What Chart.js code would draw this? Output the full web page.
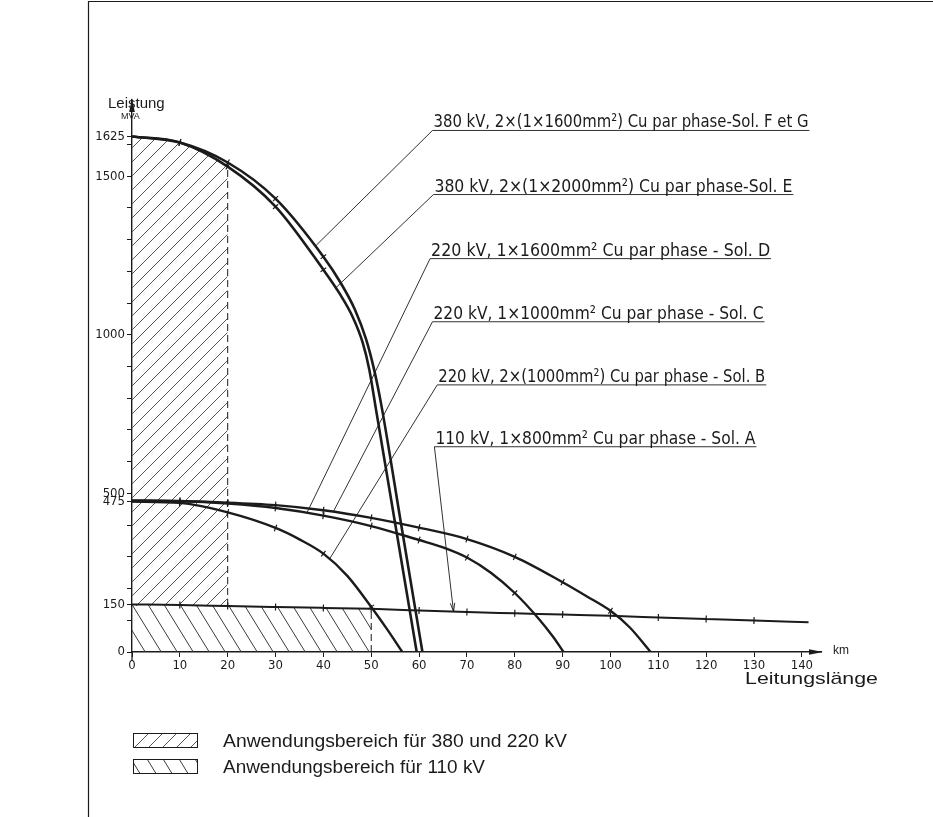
<!DOCTYPE html>
<html lang="de">
<head>
<meta charset="utf-8">
<title>Leistung / Leitungslänge</title>
<script src="https://cdn.jsdelivr.net/npm/chart.js@4.4.1/dist/chart.umd.min.js"></script>
<style>
  html, body { margin: 0; padding: 0; background: #fff; }
  #chart { display: block; }
</style>
</head>
<body>
<canvas id="chart" width="933" height="817"></canvas>
<script>
// Curves: line length (km) -> transmissible power (MVA)
const kmF = [0, 10, 20, 30, 40, 43.6, 46.6, 48.9, 50.6, 52.1, 56.3, 59.2, 60.7];
const mvaF = [1625, 1606, 1543, 1429, 1246, 1164, 1079, 987, 890, 779, 398, 136, 0];

const kmE = [0, 10, 20, 30, 40, 43.3, 46.1, 48.2, 49.6, 51.0, 55.4, 58.2, 59.5];
const mvaE = [1625, 1606, 1530, 1404, 1205, 1132, 1057, 976, 890, 764, 369, 117, 0];

const kmD = [0, 10, 20, 30, 40, 50, 60, 65, 70, 75, 80, 85, 88, 90.2];
const mvaD = [478, 476, 468, 454, 430, 397, 353, 330, 298, 250, 186, 105, 48, 0];

const kmC = [0, 10, 20, 30, 40, 50, 60, 70, 80, 90, 95, 100, 104, 108.4];
const mvaC = [476, 475, 471, 463, 447, 423, 392, 356, 300, 220, 176, 130, 78, 0];

const kmB = [0, 10, 20, 30, 35, 40, 45, 50, 53.3, 56.5];
const mvaB = [474, 470, 440, 391, 355, 310, 240, 142, 72, 0];

const kmA = [0, 10, 20, 30, 40, 50, 60, 70, 80, 90, 100, 110, 120, 130, 141.4];
const mvaA = [150, 148, 145, 142, 139, 136, 131, 126, 122, 118, 114, 109, 104, 99, 94];

// Application ranges (km)
const limit380 = 20;
const limit110 = 50;

// Axis ticks
const xTicks = [0, 10, 20, 30, 40, 50, 60, 70, 80, 90, 100, 110, 120, 130, 140];
const yTicks = [0, 100, 150, 200, 300, 400, 475, 500, 600, 700, 800, 900, 1000,
                1100, 1200, 1300, 1400, 1500, 1600, 1625];
const yLabels = [0, 150, 475, 500, 1000, 1500, 1625];

// Callouts: label, where the underline starts, where the leader touches the curve
const callouts = [
    { text: '380 kV, 2×(1×1600mm²) Cu par phase-Sol. F et G', at: [62.8, 1644], to: [38.5, 1282], width: 375 },
    { text: '380 kV, 2×(1×2000mm²) Cu par phase-Sol. E', at: [63.0, 1442], to: [42.6, 1148], width: 358 },
    { text: '220 kV, 1×1600mm² Cu par phase - Sol. D', at: [62.3, 1240], to: [36.6, 440], width: 339 },
    { text: '220 kV, 1×1000mm² Cu par phase - Sol. C', at: [62.8, 1041], to: [42.1, 443], width: 330 },
    { text: '220 kV, 2×(1000mm²) Cu par phase - Sol. B', at: [63.8, 842], to: [41.4, 296], width: 327 },
    { text: '110 kV, 1×800mm² Cu par phase - Sol. A', at: [63.2, 647], to: [67.2, 127], width: 320, arrow: true }
];

const legendItems = ['Anwendungsbereich für 380 und 220 kV', 'Anwendungsbereich für 110 kV'];

const ink = '#1b1b1b';
const numFont = "'Liberation Sans Narrow', 'DejaVu Sans Condensed', 'Liberation Sans', sans-serif";
const textFont = "'Liberation Sans', Arial, sans-serif";

function toPoints(km, mva) {
    return km.map((x, i) => ({ x: x, y: mva[i] }));
}

function hatch(dir, w, h, color) {
    const c = document.createElement('canvas');
    c.width = w;
    c.height = h;
    const g = c.getContext('2d');
    g.strokeStyle = color;
    g.lineWidth = 1;
    g.beginPath();
    for (let k = -1; k <= 1; k++) {
        const x0 = k * w;
        if (dir === '/') {
            g.moveTo(x0, h);
            g.lineTo(x0 + w, 0);
        } else {
            g.moveTo(x0, 0);
            g.lineTo(x0 + w, h);
        }
    }
    g.stroke();
    return g.createPattern(c, 'repeat');
}

// small cross marks on the curves every 10 km
function tickRadius(ctx) {
    const p = ctx.raw;
    return p && p.x > 0 && p.y > 0 && p.x % 10 === 0 ? 3.5 : 0;
}

function tickRotation(ctx) {
    const d = ctx.dataset.data;
    const i = ctx.dataIndex;
    const sx = ctx.chart.scales.x;
    const sy = ctx.chart.scales.y;
    if (!sx || !sy) return 90;
    const a = d[Math.max(i - 1, 0)];
    const b = d[Math.min(i + 1, d.length - 1)];
    const dx = sx.getPixelForValue(b.x) - sx.getPixelForValue(a.x);
    const dy = sy.getPixelForValue(b.y) - sy.getPixelForValue(a.y);
    return Math.atan2(dy, dx) * 180 / Math.PI + 90;
}

function curve(label, km, mva, width) {
    return {
        label: label,
        data: toPoints(km, mva),
        borderColor: ink,
        borderWidth: width,
        pointStyle: 'line',
        pointRadius: tickRadius,
        pointRotation: tickRotation,
        pointBorderColor: ink,
        pointBorderWidth: 1.2,
        cubicInterpolationMode: 'monotone',
        fill: false,
        order: 1
    };
}

function fitText(ctx, text, x, y, width) {
    const w = ctx.measureText(text).width;
    ctx.save();
    ctx.translate(x, y);
    ctx.scale(width / w, 1);
    ctx.fillText(text, 0, 0);
    ctx.restore();
}

document.addEventListener('DOMContentLoaded', function() {
    initChart();
});

function initChart() {
    const hatch380 = hatch('/', 14, 14, '#555');
    const hatch110 = hatch('\\', 16, 26, '#3a3a3a');

    const pointsF = toPoints(kmF, mvaF);
    const pointsA = toPoints(kmA, mvaA);
    const top380 = pointsF.filter(p => p.x <= limit380);
    const band110 = pointsA.filter(p => p.x <= limit110);
    const end380 = top380[top380.length - 1];
    const end110 = band110[band110.length - 1];
    const a380 = pointsA.find(p => p.x === limit380);

    const datasets = [
        {
            label: legendItems[0],
            data: top380,
            borderWidth: 0,
            pointRadius: 0,
            backgroundColor: hatch380,
            cubicInterpolationMode: 'monotone',
            fill: { value: a380.y },
            order: 10
        },
        {
            label: legendItems[1],
            data: band110,
            borderWidth: 0,
            pointRadius: 0,
            backgroundColor: hatch110,
            fill: 'origin',
            order: 10
        },
        {
            label: 'Grenze 380/220 kV',
            data: [{ x: limit380, y: a380.y }, { x: limit380, y: end380.y }],
            borderColor: ink,
            borderWidth: 1,
            borderDash: [7, 4],
            pointRadius: 0,
            fill: false,
            order: 5
        },
        {
            label: 'Grenze 110 kV',
            data: [{ x: limit110, y: 0 }, { x: limit110, y: end110.y }],
            borderColor: ink,
            borderWidth: 1,
            borderDash: [7, 4],
            pointRadius: 0,
            fill: false,
            order: 5
        },
        curve('Sol. F et G', kmF, mvaF, 2.6),
        curve('Sol. E', kmE, mvaE, 2.6),
        curve('Sol. D', kmD, mvaD, 2.4),
        curve('Sol. C', kmC, mvaC, 2.4),
        curve('Sol. B', kmB, mvaB, 2.4),
        curve('Sol. A', kmA, mvaA, 2)
    ];

    const drawing = {
        id: 'drawing',
        afterDraw(chart) {
            const ctx = chart.ctx;
            const sx = chart.scales.x;
            const sy = chart.scales.y;
            const area = chart.chartArea;
            const px = v => sx.getPixelForValue(v);
            const py = v => sy.getPixelForValue(v);

            ctx.save();
            ctx.fillStyle = ink;
            ctx.strokeStyle = ink;

            // frame of the figure
            ctx.lineWidth = 1.2;
            ctx.beginPath();
            ctx.moveTo(88.5, 817);
            ctx.lineTo(88.5, 1.5);
            ctx.lineTo(933, 1.5);
            ctx.stroke();

            // axis arrows
            ctx.beginPath();
            ctx.moveTo(area.right + 2, area.bottom);
            ctx.lineTo(area.right - 12, area.bottom - 2.8);
            ctx.lineTo(area.right - 12, area.bottom + 2.8);
            ctx.closePath();
            ctx.fill();
            ctx.beginPath();
            ctx.moveTo(area.left, area.top - 2);
            ctx.lineTo(area.left - 2.8, area.top + 12);
            ctx.lineTo(area.left + 2.8, area.top + 12);
            ctx.closePath();
            ctx.fill();
            ctx.lineWidth = 1.3;
            ctx.beginPath();
            ctx.moveTo(area.left, area.bottom);
            ctx.lineTo(area.left, area.bottom + 9);
            ctx.stroke();

            // axis titles
            ctx.textBaseline = 'alphabetic';
            ctx.textAlign = 'left';
            ctx.font = '15px ' + textFont;
            ctx.fillText('Leistung', 108, 108);
            ctx.font = '9px ' + textFont;
            ctx.fillText('MVA', 121, 119);
            ctx.font = '12px ' + textFont;
            ctx.fillText('km', 833, 654);
            ctx.font = '17px ' + textFont;
            fitText(ctx, 'Leitungslänge', 745, 684, 133);

            // callouts
            ctx.font = '18px ' + numFont;
            callouts.forEach(c => {
                const ax = px(c.at[0]);
                const ay = py(c.at[1]);
                const tx = px(c.to[0]);
                const ty = py(c.to[1]);
                ctx.lineWidth = 0.9;
                ctx.beginPath();
                ctx.moveTo(ax + c.width + 2, ay);
                ctx.lineTo(ax, ay);
                ctx.lineTo(tx, ty);
                ctx.stroke();
                if (c.arrow) {
                    const ang = Math.atan2(ty - ay, tx - ax);
                    ctx.beginPath();
                    ctx.moveTo(tx, ty);
                    ctx.lineTo(tx - 9 * Math.cos(ang - 0.25), ty - 9 * Math.sin(ang - 0.25));
                    ctx.moveTo(tx, ty);
                    ctx.lineTo(tx - 9 * Math.cos(ang + 0.25), ty - 9 * Math.sin(ang + 0.25));
                    ctx.stroke();
                }
                fitText(ctx, c.text, ax + 1, ay - 3, c.width);
            });

            // legend
            const items = [
                { pattern: hatch380, text: legendItems[0], y: 733, width: 344 },
                { pattern: hatch110, text: legendItems[1], y: 759, width: 262 }
            ];
            ctx.font = '18px ' + textFont;
            items.forEach(it => {
                ctx.fillStyle = it.pattern;
                ctx.fillRect(133, it.y, 64, 14);
                ctx.lineWidth = 1;
                ctx.strokeRect(133.5, it.y + 0.5, 64, 14);
                ctx.fillStyle = ink;
                fitText(ctx, it.text, 223, it.y + 14, it.width);
            });
            ctx.restore();
        }
    };

    new Chart(document.getElementById('chart'), {
        type: 'line',
        data: { datasets: datasets },
        options: {
            responsive: false,
            animation: false,
            events: [],
            layout: { padding: { left: 0, top: 100, right: 112, bottom: 125 } },
            plugins: {
                legend: { display: false },
                tooltip: { enabled: false }
            },
            scales: {
                x: {
                    type: 'linear',
                    min: 0,
                    max: 144,
                    afterBuildTicks: s => { s.ticks = xTicks.map(v => ({ value: v })); },
                    afterFit: s => { s.height = 40; },
                    ticks: {
                        autoSkip: false,
                        maxRotation: 0,
                        padding: 1,
                        color: ink,
                        font: { family: numFont, size: 13 }
                    },
                    grid: { drawOnChartArea: false, tickLength: 5, color: ink, tickWidth: 1 },
                    border: { color: ink, width: 1.4 }
                },
                y: {
                    type: 'linear',
                    min: 0,
                    max: 1740,
                    afterBuildTicks: s => { s.ticks = yTicks.map(v => ({ value: v })); },
                    afterFit: s => { s.width = 132; },
                    ticks: {
                        autoSkip: false,
                        padding: 2,
                        color: ink,
                        font: { family: numFont, size: 13 },
                        callback: v => yLabels.includes(v) ? String(v) : ''
                    },
                    grid: { drawOnChartArea: false, tickLength: 5, color: ink, tickWidth: 1 },
                    border: { color: ink, width: 1.4 }
                }
            }
        },
        plugins: [drawing]
    });
}
</script>
</body>
</html>
